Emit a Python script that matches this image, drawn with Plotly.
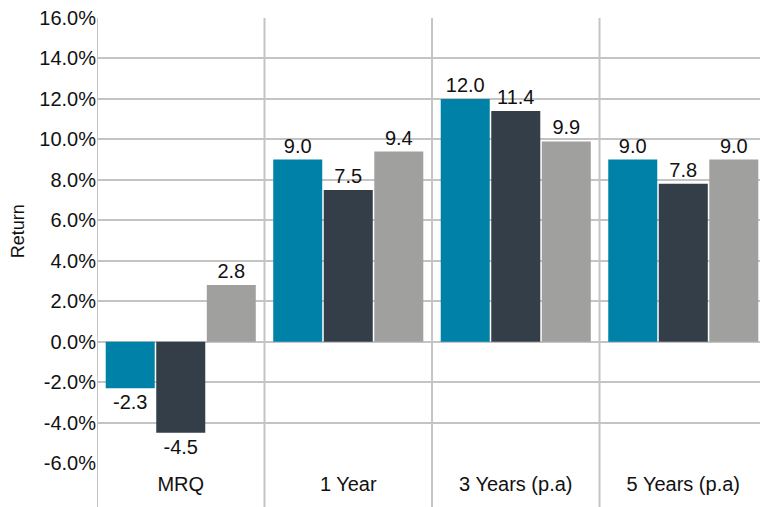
import plotly.graph_objects as go

categories = ["MRQ", "1 Year", "3 Years (p.a)", "5 Years (p.a)"]
series_a = [-2.3, 9.0, 12.0, 9.0]
series_b = [-4.5, 7.5, 11.4, 7.8]
series_c = [2.8, 9.4, 9.9, 9.0]
colors = ["#0082a8", "#333e48", "#a0a09f"]
y_ticks = [-6, -4, -2, 0, 2, 4, 6, 8, 10, 12, 14, 16]
y_tick_text = [f"{v:.1f}%" for v in y_ticks]

FONT = "Liberation Sans, Arial, sans-serif"
x_idx = list(range(len(categories)))

fig = go.Figure()
for vals, col in zip([series_a, series_b, series_c], colors):
    fig.add_trace(go.Bar(
        x=x_idx, y=vals, marker=dict(color=col, line=dict(width=0)),
        text=[f"{v:.1f}" for v in vals], textposition="outside",
        textfont=dict(size=20, color="#111111", family=FONT),
        cliponaxis=False, showlegend=False,
    ))

# category separator lines extending below the plot area
for b in [-0.5, 0.5, 1.5, 2.5]:
    fig.add_shape(type="line", xref="x", yref="paper", x0=b, x1=b,
                  y0=-0.1, y1=1, line=dict(color="#c4c4c4", width=2), layer="below")

fig.add_annotation(text="Return", textangle=-90, xref="paper", yref="paper",
                   x=-0.119, y=0.521, xanchor="center", yanchor="middle",
                   showarrow=False,
                   font=dict(size=18, family=FONT, color="#111111"))

fig.update_layout(
    width=760, height=507,
    margin=dict(l=97, r=0, t=18, b=44),
    paper_bgcolor="white", plot_bgcolor="white",
    barmode="group", bargap=0.095, bargroupgap=0.03,
    font=dict(family=FONT, size=20, color="#111111"),
    xaxis=dict(
        range=[-0.5, 3.458], tickvals=x_idx, ticktext=categories,
        showgrid=False, zeroline=False, showline=False, ticks="",
        ticklabelstandoff=7,
        tickfont=dict(size=20, family=FONT, color="#111111"),
    ),
    yaxis=dict(
        range=[-6, 16], tickvals=y_ticks, ticktext=y_tick_text,
        showgrid=True, gridcolor="#c4c4c4", gridwidth=2,
        zeroline=False, showline=False, ticks="",
        tickfont=dict(size=20, family=FONT, color="#111111"),
    ),
)

fig.write_html("out.html")
